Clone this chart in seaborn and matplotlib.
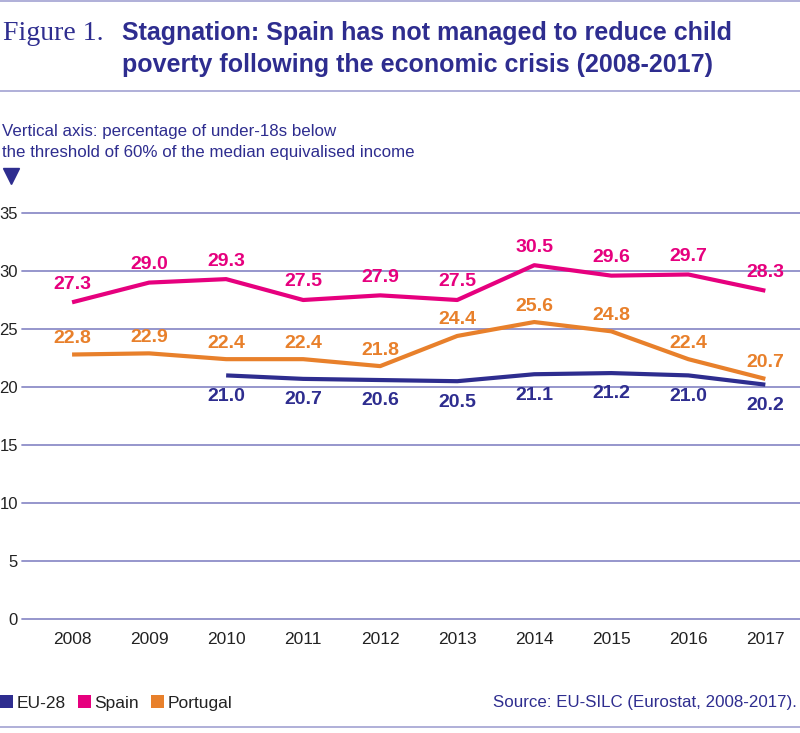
import numpy as np
import pandas as pd
import matplotlib
matplotlib.use("Agg")
import matplotlib.pyplot as plt
import seaborn as sb
from matplotlib.lines import Line2D
from matplotlib.patches import Patch

# data
years = list(range(2008, 2018))
eu28 = [np.nan, np.nan, 21.0, 20.7, 20.6, 20.5, 21.1, 21.2, 21.0, 20.2]
spain = [27.3, 29.0, 29.3, 27.5, 27.9, 27.5, 30.5, 29.6, 29.7, 28.3]
portugal = [22.8, 22.9, 22.4, 22.4, 21.8, 24.4, 25.6, 24.8, 22.4, 20.7]
series_names = ["EU-28", "Spain", "Portugal"]
y_ticks = [0, 5, 10, 15, 20, 25, 30, 35]

NAVY = "#2e2d8f"
PINK = "#e6007e"
ORANGE = "#e8802b"
GRID = "#8e8ec8"
RULE = "#a9a9d6"
palette = {"EU-28": NAVY, "Spain": PINK, "Portugal": ORANGE}

df = pd.DataFrame({
    "year": years * 3,
    "value": eu28 + spain + portugal,
    "series": [s for s in series_names for _ in years],
})

sb.set_style("white")
plt.rcParams["font.family"] = ["Liberation Sans", "DejaVu Sans"]
sans = ["Liberation Sans", "DejaVu Sans"]

fig = plt.figure(figsize=(8, 7.33), dpi=100)
ax = fig.add_axes([22 / 800, 114 / 733, 778 / 800, 406 / 733])

sb.lineplot(data=df, x="year", y="value", hue="series", palette=palette,
            linewidth=3, legend=False, ax=ax, solid_capstyle="butt")

ax.set_xlim(2007.35, 2017.45)
ax.set_ylim(0, 35)
ax.set_yticks(y_ticks)
ax.set_xticks(years)
ax.set_xlabel("")
ax.set_ylabel("")
for s in ax.spines.values():
    s.set_visible(False)
for y in y_ticks:
    ax.axhline(y, color=GRID, lw=1.3, zorder=0, clip_on=False)
ax.tick_params(axis="y", length=0, pad=3, labelsize=12, labelcolor="#222222")
ax.tick_params(axis="x", length=0, pad=9, labelsize=12.5, labelcolor="#222222")

# value labels
offsets = {"EU-28": -15, "Spain": 13, "Portugal": 11.5}
for name, vals in zip(series_names, [eu28, spain, portugal]):
    for yr, v in zip(years, vals):
        if np.isnan(v):
            continue
        ax.annotate(f"{v:.1f}", (yr, v), xytext=(0, offsets[name]),
                    textcoords="offset points", ha="center", va="center",
                    fontsize=14, fontweight="bold", color=palette[name],
                    annotation_clip=False)

# header
fig.text(3 / 800, 1 - 33 / 733, "Figure 1.", family=["Liberation Serif", "DejaVu Serif"],
         fontsize=20, color=NAVY, va="center", ha="left")
fig.text(122 / 800, 1 - 49 / 733,
         "Stagnation: Spain has not managed to reduce child\n"
         "poverty following the economic crisis (2008-2017)",
         family=sans, fontweight="bold", fontsize=18, color=NAVY,
         va="center", ha="left", linespacing=1.45)
fig.text(2 / 800, 1 - 142 / 733,
         "Vertical axis: percentage of under-18s below\n"
         "the threshold of 60% of the median equivalised income",
         family=sans, fontsize=12.2, color=NAVY, va="center", ha="left",
         linespacing=1.45)
fig.add_artist(Line2D([11 / 800], [1 - 176 / 733], marker="v", markersize=12,
                      color=NAVY, transform=fig.transFigure))

for y_px in (1, 91, 727):
    fig.add_artist(Line2D([0, 1], [1 - y_px / 733] * 2, color=RULE, lw=1.3,
                          transform=fig.transFigure))

# legend and source
handles = [Patch(facecolor=palette[n], edgecolor="none", label=n) for n in series_names]
leg = fig.legend(handles=handles, loc="center left", bbox_to_anchor=(0, 1 - 703 / 733),
                 ncol=3, frameon=False, handlelength=0.75, handleheight=0.75,
                 handletextpad=0.2, columnspacing=0.7, borderaxespad=0, borderpad=0,
                 prop={"family": sans, "size": 12.5})
for t in leg.get_texts():
    t.set_color("#222222")
fig.text(797 / 800, 1 - 703 / 733, "Source: EU-SILC (Eurostat, 2008-2017).",
         family=sans, fontsize=12.2, color=NAVY, ha="right", va="center")

fig.savefig("out.png", dpi=100)
